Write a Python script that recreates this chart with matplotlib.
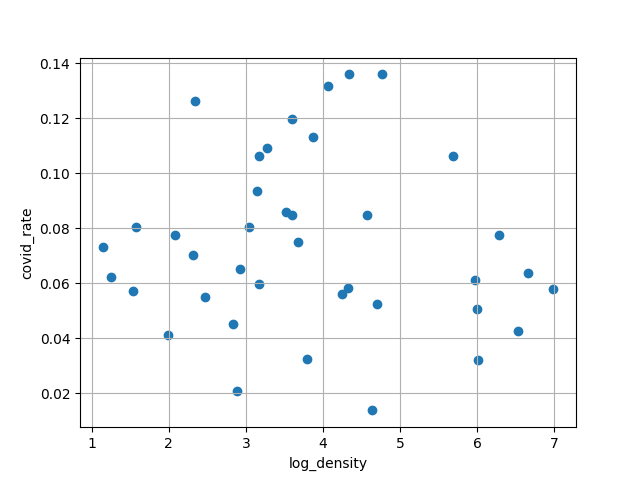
import matplotlib
matplotlib.use("Agg")
import matplotlib.pyplot as plt

# values
log_density = [2.347, 3.597, 3.870, 3.273, 3.169, 3.143, 3.519, 3.597, 3.039, 1.576,
               2.078, 3.675, 1.143, 4.065, 4.338, 4.766, 5.684, 4.571, 6.282, 2.312,
               1.247, 1.532, 2.922, 3.169, 2.468, 2.840, 1.987, 3.792, 2.883, 6.658,
               5.974, 6.987, 4.325, 4.243, 4.701, 6.000, 6.529, 6.013, 4.636]
covid_rate = [0.1265, 0.1196, 0.1131, 0.1091, 0.1062, 0.0935, 0.0858, 0.0847, 0.0804, 0.0805,
              0.0775, 0.0750, 0.0732, 0.1317, 0.1360, 0.1360, 0.1062, 0.0847, 0.0775, 0.0703,
              0.0622, 0.0572, 0.0651, 0.0596, 0.0549, 0.0451, 0.0412, 0.0324, 0.0207, 0.0637,
              0.0612, 0.0579, 0.0582, 0.0560, 0.0524, 0.0505, 0.0425, 0.0320, 0.0138]

plt.figure(figsize=(6.4, 4.8), dpi=100)
plt.scatter(log_density, covid_rate)
plt.xlabel('log_density')
plt.ylabel('covid_rate')
plt.grid(True)
plt.savefig('out.png')
plt.close()
